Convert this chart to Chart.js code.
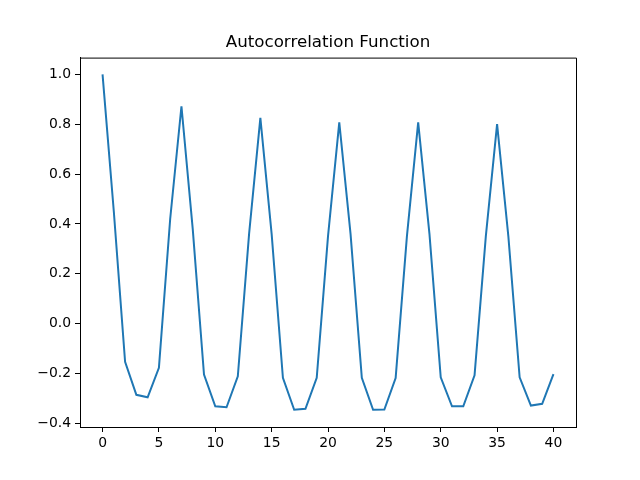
<!DOCTYPE html>
<html>
<head>
<meta charset="utf-8">
<script src="https://cdn.jsdelivr.net/npm/chart.js@4/dist/chart.umd.min.js"></script>
<style>
  html, body { margin: 0; padding: 0; background: #fff; }
  #acf { display: block; }
</style>
</head>
<body>
<canvas id="acf" width="640" height="480"></canvas>
<script>
// lag numbers and autocorrelation values
const lags = [0, 1, 2, 3, 4, 5, 6, 7, 8, 9, 10, 11, 12, 13, 14, 15, 16, 17, 18, 19, 20,
    21, 22, 23, 24, 25, 26, 27, 28, 29, 30, 31, 32, 33, 34, 35, 36, 37, 38, 39, 40];
const acfValues = [1.0, 0.45, -0.153, -0.285, -0.295, -0.177, 0.42, 0.872, 0.38, -0.204,
    -0.331, -0.335, -0.211, 0.36, 0.825, 0.36, -0.217, -0.345, -0.341, -0.217,
    0.35, 0.807, 0.36, -0.217, -0.345, -0.344, -0.218, 0.35, 0.807, 0.36,
    -0.215, -0.331, -0.331, -0.207, 0.35, 0.80, 0.35, -0.215, -0.328, -0.321, -0.202];
const xTicks = [0, 5, 10, 15, 20, 25, 30, 35, 40];
const yTicks = [-0.4, -0.2, 0.0, 0.2, 0.4, 0.6, 0.8, 1.0];
const chartTitle = 'Autocorrelation Function';

const FONT = 'DejaVu Sans';

// top/right spines and a title centred over the axes (matplotlib style)
const framePlugin = {
    id: 'frame',
    afterDraw(chart) {
        const { ctx, chartArea: a } = chart;
        ctx.save();
        ctx.strokeStyle = '#000';
        ctx.lineWidth = 1;
        ctx.beginPath();
        ctx.moveTo(a.left, a.top + 0.5);
        ctx.lineTo(a.right + 0.5, a.top + 0.5);
        ctx.lineTo(a.right + 0.5, a.bottom);
        ctx.stroke();

        ctx.fillStyle = '#000';
        ctx.font = '16.7px "' + FONT + '"';
        ctx.textAlign = 'center';
        ctx.textBaseline = 'middle';
        ctx.fillText(chartTitle, (a.left + a.right) / 2, 43);
        ctx.restore();
    }
};

const points = lags.map((lag, i) => ({ x: lag, y: acfValues[i] }));

new Chart(document.getElementById('acf'), {
    type: 'line',
    data: {
        datasets: [{
            data: points,
            borderColor: '#1f77b4',
            borderWidth: 2,
            pointRadius: 0,
            tension: 0,
            fill: false
        }]
    },
    options: {
        responsive: false,
        animation: false,
        layout: { padding: { left: 0, right: 64, top: 57.6, bottom: 0 } },
        plugins: {
            legend: { display: false },
            tooltip: { enabled: false },
            title: { display: false }
        },
        scales: {
            x: {
                type: 'linear',
                min: -2,
                max: 42,
                afterBuildTicks(scale) { scale.ticks = xTicks.map(v => ({ value: v })); },
                afterFit(scale) { scale.height = 53; },
                ticks: {
                    color: '#000',
                    font: { family: FONT, size: 13.9 },
                    padding: 3,
                    maxRotation: 0,
                    autoSkip: false,
                    callback: v => String(v)
                },
                grid: { drawOnChartArea: false, drawTicks: true, tickLength: 5, color: '#000' },
                border: { display: true, color: '#000', width: 1 }
            },
            y: {
                type: 'linear',
                min: -0.414,
                max: 1.067,
                afterBuildTicks(scale) { scale.ticks = yTicks.map(v => ({ value: v })); },
                afterFit(scale) { scale.width = 80; },
                ticks: {
                    color: '#000',
                    font: { family: FONT, size: 13.9 },
                    padding: 4,
                    autoSkip: false,
                    callback: v => (v < 0 ? '\u2212' : '') + Math.abs(v).toFixed(1)
                },
                grid: { drawOnChartArea: false, drawTicks: true, tickLength: 5, color: '#000' },
                border: { display: true, color: '#000', width: 1 }
            }
        }
    },
    plugins: [framePlugin]
});
</script>
</body>
</html>
